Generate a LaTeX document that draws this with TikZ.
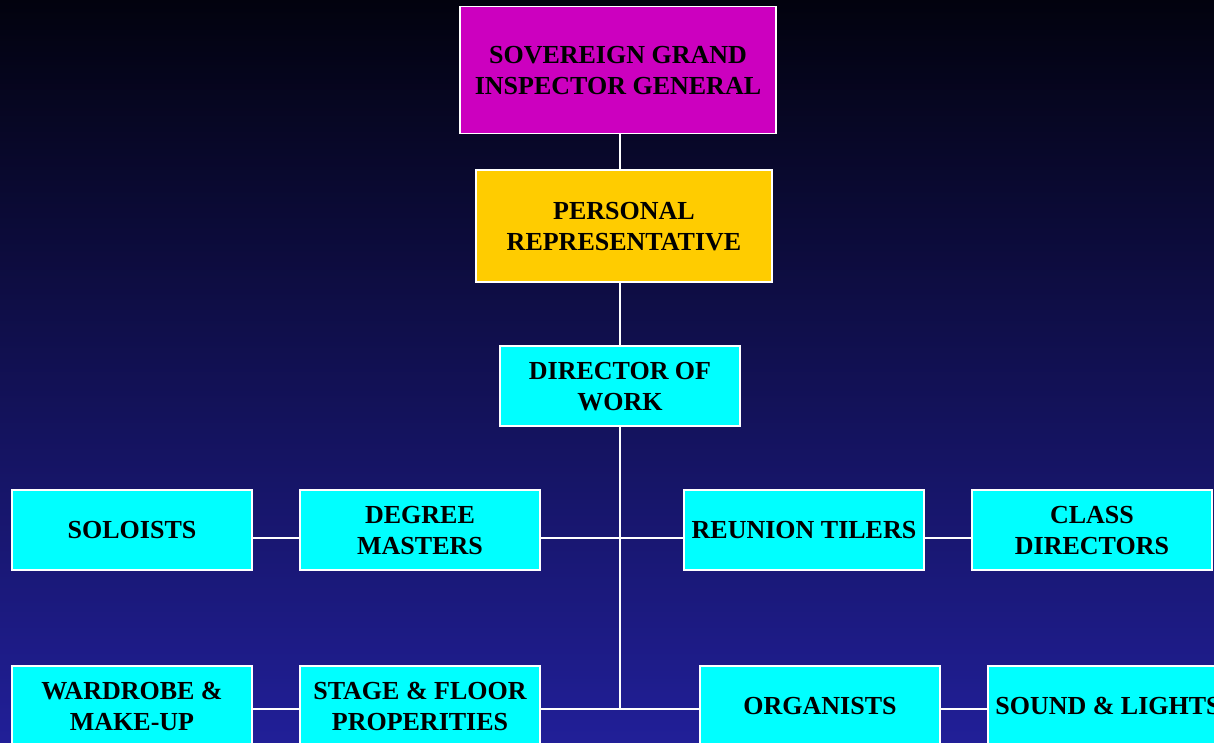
\documentclass[tikz,border=0pt]{standalone}
\usepackage{fontspec}
\setmainfont{Liberation Serif}
\usetikzlibrary{calc}
\definecolor{bgtop}{RGB}{2,2,14}
\definecolor{bgbottom}{RGB}{33,31,152}
\definecolor{postcyan}{RGB}{0,255,255}
\definecolor{postmagenta}{RGB}{204,0,191}
\definecolor{postgold}{RGB}{255,204,0}
\tikzset{%
    post/.style={inner sep=0pt,outer sep=0pt,shape=rectangle,draw=white,line width=1.5pt,
        minimum width=240pt,minimum height=80pt,align=center,fill=postcyan,text depth=-6pt,
        font=\fontsize{26}{31}\selectfont\bfseries},
    link/.style={white,line width=1.5pt},
}
\begin{document}
\begin{tikzpicture}[x=1pt,y=-1pt]
        \clip (0,0) rectangle (1214,743);
        \shade[top color=bgtop,bottom color=bgbottom] (0,0) rectangle (1214,743);
        \coordinate (row1) at (620,538);
        \coordinate (spine) at (620,709);

        \node [post,fill=postmagenta,minimum width=316pt,minimum height=127pt] (sgig) at (618,70) {SOVEREIGN GRAND\\INSPECTOR GENERAL};
        \node [post,fill=postgold,minimum width=296pt,minimum height=112pt] (rep) at (624,226) {PERSONAL\\REPRESENTATIVE};
        \node [post] (dow) at (620,386) {DIRECTOR OF\\WORK};

        \node [post] (soloists) at (132,530) {SOLOISTS};
        \node [post] (degree) at (420,530) {DEGREE\\MASTERS};
        \node [post] (tilers) at (804,530) {REUNION TILERS};
        \node [post] (classdir) at (1092,530) {CLASS\\DIRECTORS};

        \node [post] (wardrobe) at (132,706) {WARDROBE \&\\MAKE-UP};
        \node [post] (stage) at (420,706) {STAGE \& FLOOR\\PROPERITIES};
        \node [post] (organists) at (820,706) {ORGANISTS};
        \node [post] (sound) at (1108,706) {SOUND \& LIGHTS};

        \draw [link] (sgig.south -| spine) -- (rep.north -| spine);
        \draw [link] (rep.south -| spine) -- (dow.north);
        \draw [link] (dow.south) -- (spine);

        \draw [link] (soloists.east |- row1) -- (degree.west |- row1);
        \draw [link] (degree.east |- row1) -- (tilers.west |- row1);
        \draw [link] (tilers.east |- row1) -- (classdir.west |- row1);

        \draw [link] (wardrobe.east |- spine) -- (stage.west |- spine);
        \draw [link] (stage.east |- spine) -- (organists.west |- spine);
        \draw [link] (organists.east |- spine) -- (sound.west |- spine);
\end{tikzpicture}
\end{document}
